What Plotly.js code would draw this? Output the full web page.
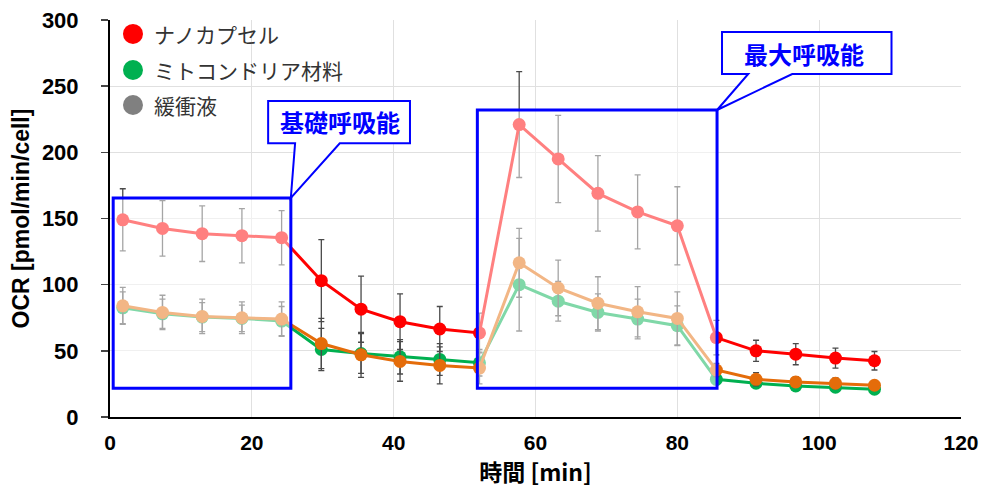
<!DOCTYPE html>
<html><head><meta charset="utf-8">
<script src="https://cdn.plot.ly/plotly-3.0.1.min.js"></script>
<style>html,body{margin:0;padding:0;background:#fff}#chart{width:982px;height:491px}</style>
</head><body><div id="chart"></div>
<script>
const timeMin = [1.8, 7.4, 13.0, 18.6, 24.2, 29.8, 35.4, 40.9, 46.5, 52.1, 57.7, 63.2, 68.8, 74.4, 80.0, 85.5, 91.1, 96.7, 102.3, 107.8];
const nanoOCR = [149, 142.5, 138.5, 137, 135.5, 103, 81.5, 72, 66.5, 63.5, 221, 195, 169, 155, 144.5, 60, 50, 47.5, 44.5, 42.5];
const nanoErr = [23.5, 21, 21, 20.5, 20.5, 31, 25, 21, 17, 15, 40, 33, 28.5, 28, 29.5, 13, 8, 8, 7.5, 7];
const mitoOCR = [82.5, 78, 75.5, 74.5, 72.5, 51, 48, 45.5, 43.5, 41, 100, 87.5, 79, 74, 69, 28.5, 25.5, 23.5, 22.5, 21];
const mitoErr = [12, 11, 11, 10, 11, 16, 15, 13, 12, 10, 35, 15, 14, 15, 15, 4, 3, 3, 3, 3];
const bufferOCR = [84, 79, 76, 75, 74, 55.5, 47, 42, 39, 37, 116.5, 97.5, 86, 79.5, 74.5, 35.5, 28.5, 26.5, 25.5, 24];
const bufferErr = [14, 13, 13, 12, 13, 19, 17, 15, 14, 12, 26, 21, 20, 19, 20, 5, 5, 4, 4, 3];
const seriesNames = ['ナノカプセル', 'ミトコンドリア材料', '緩衝液'];
const legendColors = ['#FF0000', '#00B050', '#808080'];
const xTicks = [0, 20, 40, 60, 80, 100, 120];
const yTicks = [0, 50, 100, 150, 200, 250, 300];
const calloutLabels = ['基礎呼吸能', '最大呼吸能'];

function series(y, err, color) {
  return {
    x: timeMin, y: y, type: 'scatter', mode: 'lines+markers', showlegend: false,
    line: {color: color, width: 3}, marker: {color: color, size: 13},
    error_y: {type: 'data', array: err, visible: true, color: '#4a4a4a', thickness: 1.3, width: 3},
    hoverinfo: 'skip'
  };
}
const traces = [
  series(mitoOCR, mitoErr, '#00B050'),
  series(bufferOCR, bufferErr, '#E46C0A'),
  series(nanoOCR, nanoErr, '#FF0000')
];

const blue = '#0000FF';
const font = '"Liberation Sans", Arial, sans-serif';
const cjk = '"Noto Sans CJK JP", sans-serif';
const shapes = [
  {type: 'rect', xref: 'x', yref: 'y', x0: 0.45, x1: 25.5, y0: 21.7, y1: 165.5,
   fillcolor: 'rgba(255,255,255,0.5)', line: {color: blue, width: 3}, layer: 'above'},
  {type: 'rect', xref: 'x', yref: 'y', x0: 51.8, x1: 85.6, y0: 21.7, y1: 232,
   fillcolor: 'rgba(255,255,255,0.5)', line: {color: blue, width: 3}, layer: 'above'},
  {type: 'path', xref: 'x', yref: 'y', layer: 'above', fillcolor: '#fff', line: {color: blue, width: 2},
   path: 'M 22.3,238.8 L 42.3,238.8 L 42.3,206.8 L 32.4,206.8 L 25.5,165.5 L 26.1,206.8 L 22.3,206.8 Z'},
  {type: 'path', xref: 'x', yref: 'y', layer: 'above', fillcolor: '#fff', line: {color: blue, width: 2},
   path: 'M 86.3,290.9 L 110.2,290.9 L 110.2,259.2 L 96.2,259.2 L 85.6,232 L 90.0,259.2 L 86.3,259.2 Z'}
];
const annotations = [
  {xref: 'x', yref: 'y', x: 32.5, y: 223, text: '<b>' + calloutLabels[0] + '</b>', showarrow: false,
   font: {family: cjk, size: 24, color: blue}},
  {xref: 'x', yref: 'y', x: 97.8, y: 275, text: '<b>' + calloutLabels[1] + '</b>', showarrow: false,
   font: {family: cjk, size: 24, color: blue}}
];
// manual legend (large dots)
const legendY = [0.965, 0.874, 0.786];
seriesNames.forEach((n, i) => {
  shapes.push({type: 'circle', xref: 'paper', yref: 'paper', xsizemode: 'pixel', ysizemode: 'pixel',
    xanchor: 0.027, yanchor: legendY[i], x0: -10, x1: 10, y0: -10, y1: 10,
    fillcolor: legendColors[i], line: {width: 0}, layer: 'above'});
  annotations.push({xref: 'paper', yref: 'paper', x: 0.049, y: legendY[i], xanchor: 'left', yanchor: 'middle',
    text: n, showarrow: false, font: {family: cjk, size: 21, color: '#333'}});
});

const layout = {
  width: 982, height: 491,
  margin: {l: 110, r: 21, t: 20, b: 74},
  paper_bgcolor: '#fff', plot_bgcolor: '#fff',
  showlegend: false,
  xaxis: {range: [0, 120], tickvals: xTicks, showgrid: true, gridcolor: '#E0E0E0', gridwidth: 1,
    zeroline: false, showline: true, linecolor: '#000', linewidth: 2, ticks: '', ticklabelstandoff: 6,
    tickfont: {family: font, size: 21, color: '#000', weight: 'bold'},
    title: {text: '<b>時間 [min]</b>', font: {family: cjk, size: 23, color: '#000'}, standoff: 8}},
  yaxis: {range: [0, 300], tickvals: yTicks, showgrid: true, gridcolor: '#E0E0E0', gridwidth: 1,
    zeroline: false, showline: true, linecolor: '#000', linewidth: 2, ticks: 'outside', ticklen: 7, tickwidth: 1.5,
    ticklabelstandoff: 18,
    tickfont: {family: font, size: 22, color: '#000', weight: 'bold'},
    title: {text: '<b>OCR [pmol/min/cell]</b>', font: {family: font, size: 23, color: '#000'}, standoff: 6}},
  shapes: shapes, annotations: annotations
};
Plotly.newPlot('chart', traces, layout, {displayModeBar: false, staticPlot: true});
</script></body></html>
